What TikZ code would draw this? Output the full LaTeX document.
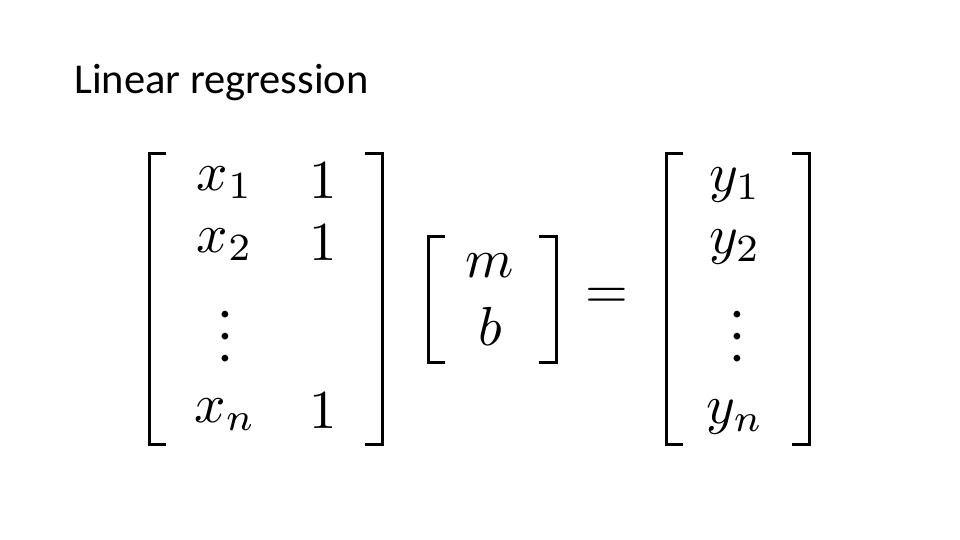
\documentclass[tikz,border=0pt]{standalone}
\usepackage{fontspec}
\setmainfont{Carlito}
\begin{document}
\begin{tikzpicture}[x=1pt,y=-1pt,
  m/.style={inner sep=0pt,font=\fontsize{10}{12}\selectfont,scale=5.5,transform shape},
  br/.style={line width=3pt}]
\useasboundingbox (0,0) rectangle (960,540);
\node[anchor=base west,inner sep=0pt,font=\fontsize{42.5}{46}\selectfont] (title) at (74,94) {Linear regression};
\newcommand\lbr[3]{\draw[br] (#1+17,#2) -- (#1,#2) -- (#1,#3) -- (#1+17,#3);}
\newcommand\rbr[3]{\draw[br] (#1-17,#2) -- (#1,#2) -- (#1,#3) -- (#1-17,#3);}
\lbr{149}{154}{444}\rbr{382}{154}{444}
\lbr{428}{236}{362}\rbr{556}{236}{362}
\lbr{666}{154}{444}\rbr{809}{154}{444}
\node[m] (x1) at (225,183) {$x_1$};
\node[m] (a1) at (323,181) {$1$};
\node[m] (x2) at (225,245) {$x_2$};
\node[m] (a2) at (323,243) {$1$};
\node[m] (xd) at (225,320) {$\vdots$};
\node[m] (xn) at (225,415) {$x_n$};
\node[m] (an) at (323,411) {$1$};
\node[m] (mm) at (490,266) {$m$};
\node[m] (bb) at (490,326) {$b$};
\node[m] (eq) at (607,298) {$=$};
\node[m] (y1) at (735,185) {$y_1$};
\node[m] (y2) at (735,247) {$y_2$};
\node[m] (yd) at (737,320) {$\vdots$};
\node[m] (yn) at (735,417) {$y_n$};
\end{tikzpicture}
\end{document}
